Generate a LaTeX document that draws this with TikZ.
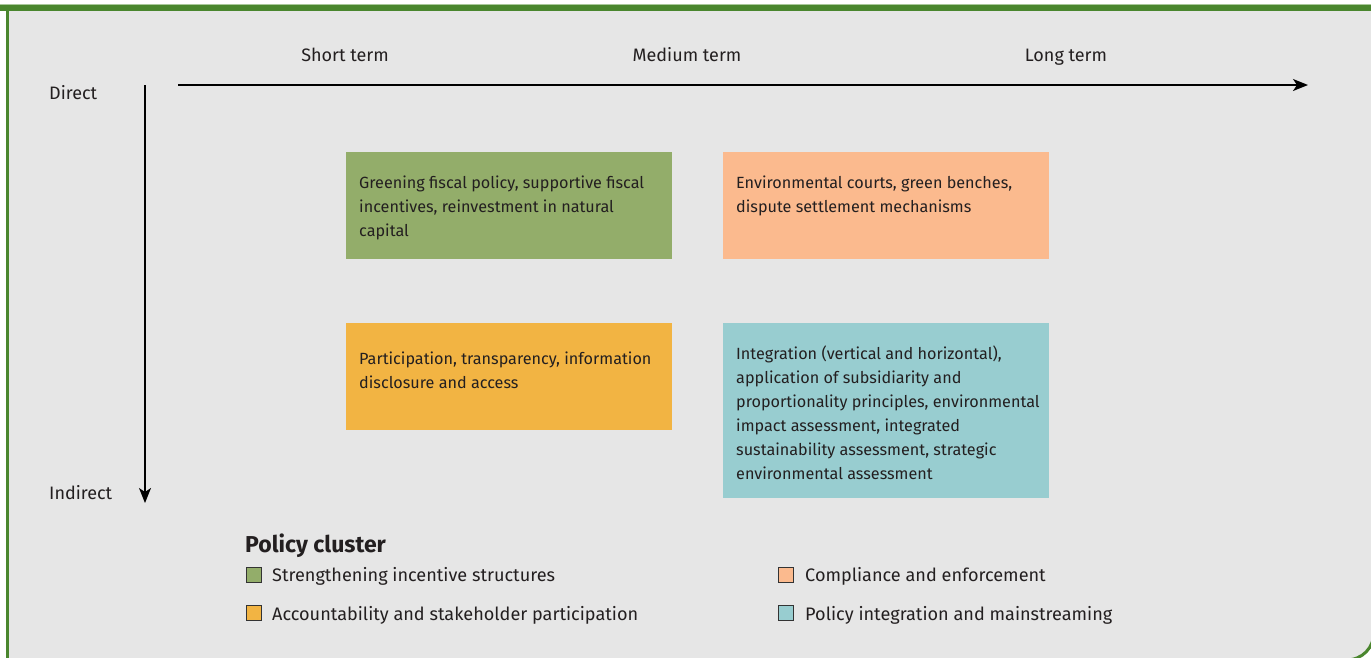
\documentclass[tikz,border=0pt]{standalone}
\usepackage{fontspec}
\setmainfont{Fira Sans}
\usetikzlibrary{arrows.meta}
\definecolor{bggray}{HTML}{E6E6E6}
\definecolor{framegreen}{HTML}{4A862E}
\definecolor{lightgreen}{HTML}{A9C89A}
\definecolor{boxgreen}{HTML}{93AD6A}
\definecolor{boxorange}{HTML}{FBBA8E}
\definecolor{boxyellow}{HTML}{F2B443}
\definecolor{boxteal}{HTML}{98CDD0}
\definecolor{txt}{HTML}{231F20}
\tikzset{
  axislabel/.style={font=\fontsize{18}{21}\selectfont, text=txt, inner sep=0pt, anchor=base},
  clusterbox/.style={minimum width=326pt, anchor=north west, inner sep=0pt, draw=none},
  boxtext/.style={font=\fontsize{16.2}{24}\selectfont, text=txt, align=left, anchor=north west, inner sep=0pt},
  legsquare/.style={minimum width=15pt, minimum height=15pt, inner sep=0pt, draw=black!80, line width=0.8pt},
  legtext/.style={font=\fontsize{18.1}{21}\selectfont, text=txt, anchor=base west, inner sep=0pt},
  axisarrow/.style={line width=1.6pt, -{Stealth[length=15pt,width=12pt,inset=4pt]}},
  frameline/.style={draw=framegreen, line width=3pt}
}
\begin{document}
\begin{tikzpicture}[x=1pt,y=-1pt]
\useasboundingbox (0,0) rectangle (1371,657);
\clip (0,0) rectangle (1371,657);
% frame
\fill[white] (0,0) rectangle (1371,657);
\fill[bggray] (7.5,8) -- (1380,8) -- (1380,632) -- (1374,632)
  .. controls (1374,647.5) and (1362.5,660) .. (1346,660) -- (7.5,660) -- cycle;
\draw[frameline] (7.5,8) -- (7.5,665);
\draw[frameline] (1374,632) .. controls (1374,647.5) and (1362.5,660) .. (1346,660);
\fill[lightgreen] (0,3.8) rectangle (1371,5);
\fill[framegreen] (0,5) rectangle (1371,11);

% axes
\coordinate (hstart) at (178,85);
\coordinate (hend) at (1308,85);
\coordinate (vstart) at (145,85);
\coordinate (vend) at (145,503);
\draw[axisarrow] (hstart) -- (hend);
\draw[axisarrow] (vstart) -- (vend);

\node[axislabel] (short) at (345,61) {Short term};
\node[axislabel] (medium) at (687,61) {Medium term};
\node[axislabel] (long) at (1066,61) {Long term};
\node[axislabel, anchor=base west] (direct) at (49,99) {Direct};
\node[axislabel, anchor=base west] (indirect) at (49,499) {Indirect};

% boxes
\node[clusterbox, fill=boxgreen, minimum height=107pt] (b1) at (346,152) {};
\node[clusterbox, fill=boxorange, minimum height=107pt] (b2) at (723,152) {};
\node[clusterbox, fill=boxyellow, minimum height=107pt] (b3) at (346,323) {};
\node[clusterbox, fill=boxteal, minimum height=175pt] (b4) at (723,323) {};

\node[boxtext] (t1) at (359,175.5) {Greening fiscal policy, supportive fiscal\\incentives, reinvestment in natural\\capital};
\node[boxtext] (t2) at (736,175.5) {Environmental courts, green benches,\\dispute settlement mechanisms};
\node[boxtext] (t3) at (359,351.5) {Participation, transparency, information\\disclosure and access};
\node[boxtext] (t4) at (736,345.5) {Integration (vertical and horizontal),\\application of subsidiarity and\\proportionality principles, environmental\\impact assessment, integrated\\sustainability assessment, strategic\\environmental assessment};

% legend
\node[font=\fontsize{23}{26}\selectfont\bfseries, text=txt, anchor=base west, inner sep=0pt] (legtitle) at (245,552) {Policy cluster};
\node[legsquare, fill=boxgreen] (s1) at (254,574.5) {};
\node[legtext] (l1) at (272,581) {Strengthening incentive structures};
\node[legsquare, fill=boxyellow] (s2) at (254,612.5) {};
\node[legtext] (l2) at (272,620) {Accountability and stakeholder participation};
\node[legsquare, fill=boxorange] (s3) at (786,574.5) {};
\node[legtext] (l3) at (805,581) {Compliance and enforcement};
\node[legsquare, fill=boxteal] (s4) at (786,612.5) {};
\node[legtext] (l4) at (805,620) {Policy integration and mainstreaming};
\end{tikzpicture}
\end{document}
